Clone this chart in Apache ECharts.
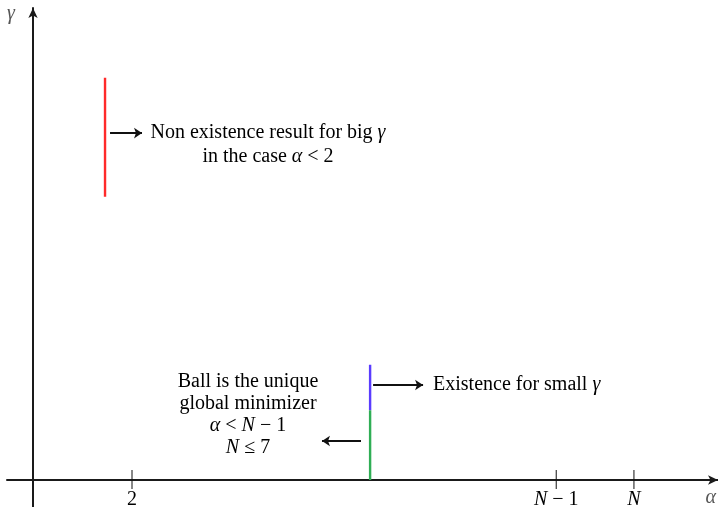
<!DOCTYPE html>
<html><head><meta charset="utf-8">
<script src="https://cdn.jsdelivr.net/npm/echarts@6/dist/echarts.min.js"></script>
<style>html,body{margin:0;padding:0;background:#fff}#c{width:718px;height:507px}</style>
</head><body><div id="c"></div>
<script>
// Schematic coordinates (alpha on x, gamma on y)
var tickValues = [2, 10.57, 12.14];
var tickLabels = ['2', '{i|N} − 1', '{i|N}'];
var redSegment = [[1.455, 6.0], [1.455, 8.52]];
var blueSegment = [[6.81, 1.48], [6.81, 2.44]];
var greenSegment = [[6.81, 0], [6.81, 1.48]];
var arrows = [
  [[1.556, 7.35], [2.202, 7.35]],
  [[6.87, 2.013], [7.88, 2.013]],
  [[6.626, 0.826], [5.838, 0.826]]
];
var noteTexts = [
  'Non existence result for big {i|γ}\nin the case {i|α} < 2',
  'Existence for small {i|γ}',
  'Ball is the unique\nglobal minimizer\n{i|α} < {i|N} − 1\n{i|N} ≤ 7'
];
var FONT = 'Liberation Serif';
var FS = 20;
var INK = '#000';

var chart = echarts.init(document.getElementById('c'));
var segStyle = function (c) {
  return { type: 'line', data: null, symbol: 'none', silent: true, animation: false,
    lineStyle: { color: c, width: 2.4 } };
};
var s1 = segStyle('#ff2a2a'); s1.data = redSegment;
var s2 = segStyle('#5a3cff'); s2.data = blueSegment;
var s3 = segStyle('#2fae55'); s3.data = greenSegment;

// anchor (data coords), alignment and line height for each note
var noteLayout = [
  { pos: [4.747, 7.097], align: 'center', lh: 24 },
  { pos: [8.081, 2.013], align: 'left', lh: 22 },
  { pos: [4.343, 1.377], align: 'center', lh: 22 }
];

chart.setOption({
  animation: false,
  grid: { left: 7, right: 0, top: 8, bottom: 0 },
  xAxis: {
    type: 'value', min: -0.5253, max: 13.838,
    axisLine: { show: true, onZero: true, symbol: ['none', 'arrow'], symbolSize: [7, 10],
      lineStyle: { color: '#1a1a1a', width: 2 } },
    axisTick: { show: false }, axisLabel: { show: false }, splitLine: { show: false }
  },
  yAxis: {
    type: 'value', min: -0.572, max: 10,
    axisLine: { show: true, onZero: true, symbol: ['none', 'arrow'], symbolSize: [7, 10],
      lineStyle: { color: '#1a1a1a', width: 2 } },
    axisTick: { show: false }, axisLabel: { show: false }, splitLine: { show: false }
  },
  series: [
    s1, s2, s3,
    {
      type: 'lines', coordinateSystem: 'cartesian2d', silent: true, animation: false,
      symbol: ['none', 'arrow'], symbolSize: 8,
      lineStyle: { color: '#111', width: 1.8, opacity: 1 },
      data: arrows.map(function (a) { return { coords: a }; })
    },
    {
      type: 'custom', silent: true, animation: false,
      data: tickValues.map(function (v, i) { return [v, i]; }),
      renderItem: function (params, api) {
        var p = api.coord([api.value(0), 0]);
        return {
          type: 'group',
          children: [
            { type: 'line', shape: { x1: p[0], y1: p[1] - 10, x2: p[0], y2: p[1] + 9 },
              style: { stroke: '#111', lineWidth: 1 } },
            { type: 'text', x: p[0], y: p[1] + 20,
              style: { text: tickLabels[api.value(1)], align: 'center', verticalAlign: 'middle',
                font: FS + 'px ' + FONT, fill: INK,
                rich: { i: { fontStyle: 'italic', fontFamily: FONT, fontSize: FS, fill: INK } } } }
          ]
        };
      }
    },
    {
      type: 'custom', silent: true, animation: false,
      data: noteLayout.map(function (n, i) { return [n.pos[0], n.pos[1], i]; }),
      renderItem: function (params, api) {
        var i = api.value(2), L = noteLayout[i];
        var p = api.coord([api.value(0), api.value(1)]);
        return {
          type: 'text', x: p[0], y: p[1],
          style: { text: noteTexts[i], align: L.align, verticalAlign: 'middle',
            fontFamily: FONT, fontSize: FS, fill: INK, lineHeight: L.lh,
            rich: { i: { fontStyle: 'italic', fontFamily: FONT, fontSize: FS, fill: INK, lineHeight: L.lh } } }
        };
      }
    }
  ],
  graphic: [
    { type: 'text', left: 7, top: 4, style: { text: 'γ', font: 'italic ' + FS + 'px ' + FONT, fill: '#555' } },
    { type: 'text', right: 2, top: 488, style: { text: 'α', font: 'italic ' + FS + 'px ' + FONT, fill: '#555' } }
  ]
});
</script></body></html>
